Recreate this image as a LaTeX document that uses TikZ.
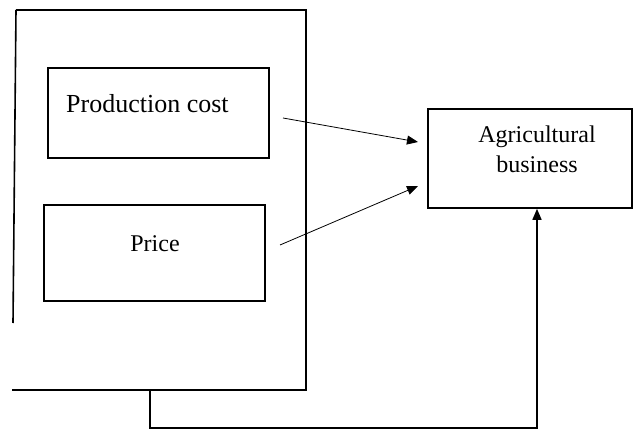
\documentclass[tikz,border=0pt]{standalone}
\usepackage{fontspec}
\setmainfont{Liberation Serif}
\usetikzlibrary{arrows.meta}
\begin{document}
\begin{tikzpicture}[x=1pt,y=-1pt,
  box/.style={draw,line width=1.6pt,inner sep=0pt},
  thick line/.style={line width=1.6pt},
  arr/.style={line width=0.8pt,-{Triangle[length=11pt,width=9pt]}},
  lbl/.style={font=\fontsize{24}{30}\selectfont,align=center,inner sep=0pt}]
\useasboundingbox (0,0) rectangle (637,430);
% outer frame
\draw[thick line] (16,10) -- (306,10) -- (306,390) -- (12,390);
\draw[thick line] (16,10) -- (13,323);
\coordinate (outerstem) at (150,390);
% inner boxes
\node[box,minimum width=221pt,minimum height=90pt] (pc) at (158.5,113) {};
\node[lbl,font=\fontsize{26}{30}\selectfont,anchor=base west] (pct) at (66,113) {Production cost};
\node[box,minimum width=221pt,minimum height=96pt] (pr) at (154.5,253) {};
\node[lbl,anchor=base] (prt) at (155,252) {Price};
% agricultural business
\node[box,minimum width=204pt,minimum height=99pt] (ag) at (530,158.5) {};
\node[lbl,anchor=base] (agt) at (537,173) {Agricultural\\business};
% arrow start points
\coordinate (a1) at (283,118);
\coordinate (a2) at (280,245);
\coordinate (e1) at (418,142);
\coordinate (e2) at (418,186);
\draw[arr] (a1) -- (e1);
\draw[arr] (a2) -- (e2);
% bottom connector
\coordinate (c1) at (150,428);
\coordinate (c2) at (537,428);
\draw[line width=1.6pt,-{Triangle[length=11pt,width=9pt]}] (outerstem) -- (c1) -- (c2) -- (ag.south -| c2);
\end{tikzpicture}
\end{document}
